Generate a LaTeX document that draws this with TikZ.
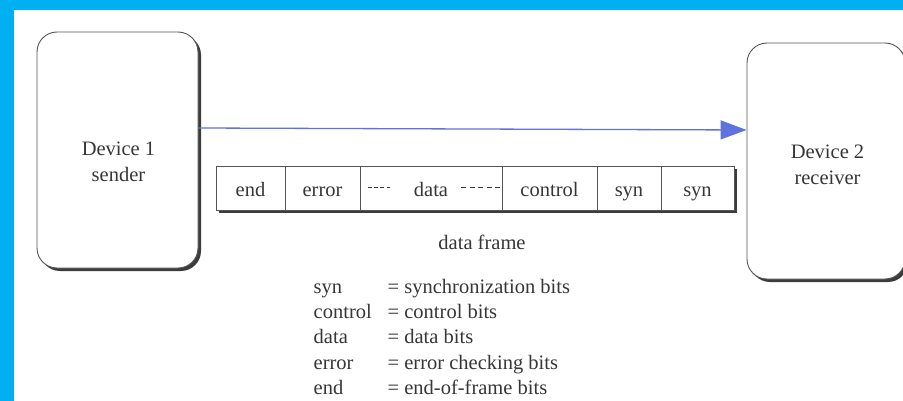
\documentclass[tikz,border=0pt]{standalone}
\usepackage{fontspec}
\setmainfont{Liberation Serif}
\usetikzlibrary{arrows.meta,shadows}

\definecolor{edge}{RGB}{85,85,85}
\definecolor{ink}{RGB}{55,55,55}
\definecolor{shade}{RGB}{60,60,60}
\definecolor{frameblue}{RGB}{0,176,240}
\definecolor{linkblue}{RGB}{95,115,222}

\tikzset{
  txt/.style={font=\fontsize{20.5}{25}\selectfont, text=ink, inner sep=0pt},
  boxshadow/.style={drop shadow={shadow xshift=3pt, shadow yshift=-3pt, fill=shade, opacity=1}},
  device/.style={draw=edge, line width=0.9pt, fill=white, rounded corners=20pt,
                 boxshadow, inner sep=0pt},
  framebox/.style={draw=edge, line width=0.9pt, fill=white, boxshadow,
                   inner sep=0pt, outer sep=0pt},
  cell/.style={txt, draw=edge, line width=0.9pt, minimum height=43.5pt,
               text height=18pt, text depth=1pt, anchor=west, outer sep=0pt},
  gap/.style={draw=ink, line width=0.9pt},
  link/.style={draw=linkblue, line width=1.3pt, -{Triangle[length=26pt,width=19pt]}},
  keyword/.style={txt, anchor=base west},
}

\begin{document}
\begin{tikzpicture}[x=1pt,y=-1pt]
\useasboundingbox (0,0) rectangle (903,401);
\clip (0,0) rectangle (903,401);
\fill[white] (0,0) rectangle (903,401);
% page border
\fill[frameblue] (0,0) rectangle (903,10);
\fill[frameblue] (0,0) rectangle (14,401);

% devices
\node[device, minimum width=161pt, minimum height=236pt] (d1) at (117.5,150) {};
\node[device, minimum width=158pt, minimum height=236pt] (d2) at (826,161) {};
\node[txt, anchor=base] (d1a) at (118.5,156) {Device 1};
\node[txt, anchor=base] (d1b) at (118.5,182) {sender};
\node[txt, anchor=base] (d2a) at (827.5,159) {Device 2};
\node[txt, anchor=base] (d2b) at (827.5,185) {receiver};

% transmission direction
\draw[link] ([yshift=22pt]d1.east) -- ([yshift=31pt]d2.west);

% the frame and its fields
\node[framebox, minimum width=518pt, minimum height=43.5pt] (frm) at (475,188.25) {};
\node[cell, minimum width=69pt]  (c1) at (frm.west) {end};
\node[cell, minimum width=75pt]  (c2) at (c1.east) {error};
\node[cell, minimum width=142pt] (c3) at (c2.east) {data};
\node[cell, minimum width=95pt]  (c4) at (c3.east) {control};
\node[cell, minimum width=64pt]  (c5) at (c4.east) {syn};
\node[cell, minimum width=73pt]  (c6) at (c5.east) {syn};
\draw[gap, dash pattern=on 3.5pt off 2.7pt] (368,187) -- (390.5,187);
\draw[gap, dash pattern=on 5pt off 3.5pt] (461,187) -- (500,187);

\node[txt, anchor=base] (cap) at (482,249) {data frame};

% legend
\node[keyword] (k1) at (313.5,293)   {syn};
\node[keyword] (v1) at (387.5,293)   {= synchronization bits};
\node[keyword] (k2) at (313.5,318)   {control};
\node[keyword] (v2) at (387.5,318)   {= control bits};
\node[keyword] (k3) at (313.5,343.5) {data};
\node[keyword] (v3) at (387.5,343.5) {= data bits};
\node[keyword] (k4) at (313.5,369)   {error};
\node[keyword] (v4) at (387.5,369)   {= error checking bits};
\node[keyword] (k5) at (313.5,394)   {end};
\node[keyword] (v5) at (387.5,394)   {= end-of-frame bits};
\end{tikzpicture}
\end{document}
